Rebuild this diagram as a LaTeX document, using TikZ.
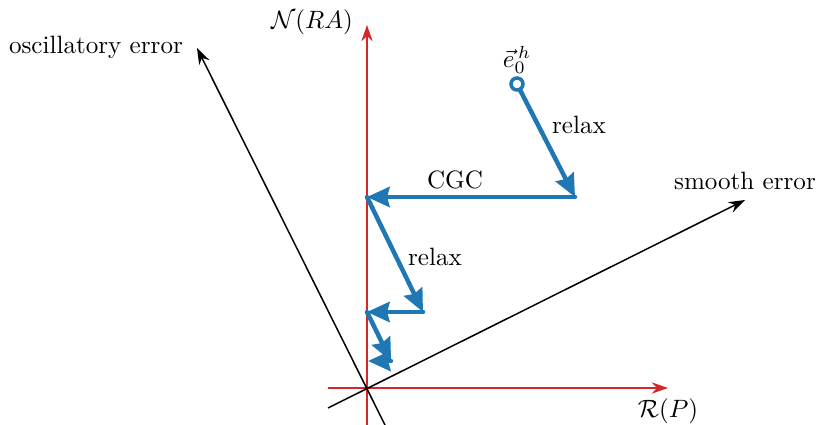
\documentclass[tikz,border=0pt]{standalone}
\usetikzlibrary{arrows.meta,positioning,calc}
\usepackage{amsmath}
\definecolor{Relax}{HTML}{1F77B4}
\definecolor{Axis}{HTML}{D62728}

\begin{document}
\begin{tikzpicture}[x=0.701cm,y=0.701cm,
  axisline/.style={Axis,line width=0.5pt,-{Stealth[length=6.5pt,width=4.5pt]}},
  modeline/.style={black,line width=0.6pt,-{Stealth[length=6.5pt,width=4.5pt]}},
  iterstep/.style={Relax,line width=1.8pt,line cap=round,-{Stealth[length=9pt,width=8pt,inset=1pt]}}]
\useasboundingbox (-7.34,-0.74) rectangle (9.06,7.76);
% subspaces
\coordinate (xlo) at (-0.78,0);
\coordinate (xhi) at (6.02,0);
\coordinate (ylo) at (0,-0.74);
\coordinate (yhi) at (0,7.26);
\draw[axisline] (xlo) -- (xhi);
\draw[axisline] (ylo) -- (yhi);
\node (rlab) at (6.02,-0.46) {$\mathcal{R}(P)$};
\node (nlab) at (-1.1,7.32) {$\mathcal{N}(RA)$};
% error modes
\coordinate (slo) at (-0.78,-0.4);
\coordinate (shi) at (7.56,3.76);
\coordinate (olo) at (0.36,-0.74);
\coordinate (ohi) at (-3.4,6.8);
\draw[modeline] (slo) -- (shi);
\draw[modeline] (olo) -- (ohi);
\node (slab) at (7.56,4.14) {smooth error};
\node (olab) at (-5.42,6.82) {oscillatory error};
% iterates
\coordinate (e0) at (3.0,6.08);
\coordinate (e1) at (4.16,3.82);
\coordinate (e2) at (0,3.82);
\coordinate (e3) at (1.12,1.52);
\coordinate (e4) at (0,1.52);
\coordinate (e5) at (0.48,0.54);
\coordinate (e6) at (0.02,0.54);
\foreach \a/\b in {e0/e1,e1/e2,e2/e3,e3/e4,e4/e5,e5/e6} \draw[iterstep] (\a) -- (\b);
\draw[Relax,line width=1.4pt,fill=white] (e0) circle (0.12);
\node[inner sep=1pt] (e0lab) at (3.0,6.56) {$\vec{e}^{\,h}_0$};
\node (r1lab) at (4.24,5.26) {relax};
\node (cgclab) at (1.76,4.16) {CGC};
\node (r2lab) at (1.36,2.62) {relax};
\end{tikzpicture}
\end{document}
